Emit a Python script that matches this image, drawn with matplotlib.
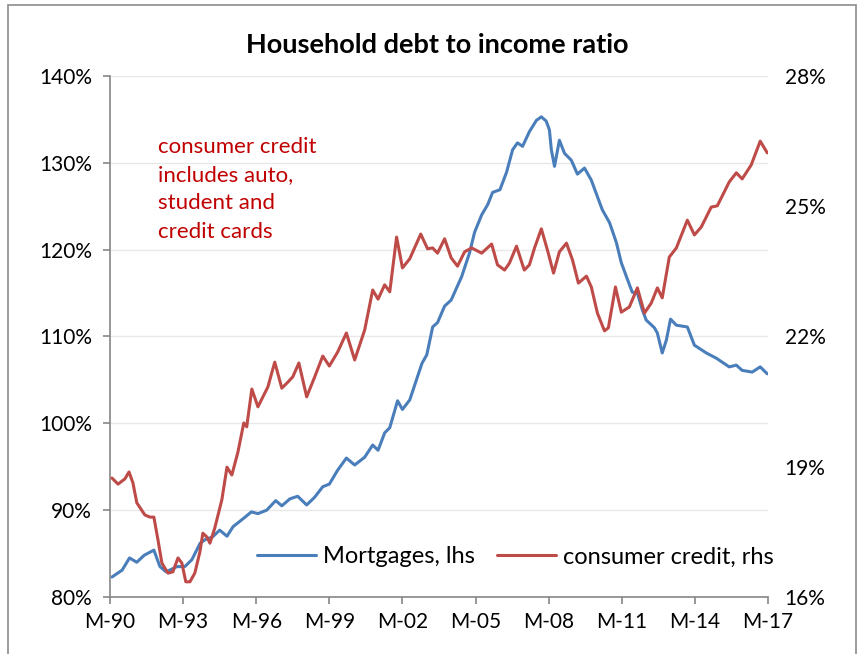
import numpy as np
import matplotlib.pyplot as plt
from matplotlib.patches import Rectangle

plt.rcParams['font.family'] = ['Lato', 'DejaVu Sans']

# mortgage debt / income (%), left axis
mort_t = [1990.08, 1990.5, 1990.8, 1991.1, 1991.4, 1991.8, 1992.05, 1992.3, 1992.75,
          1993.07, 1993.36, 1993.7, 1993.9, 1994.2, 1994.5, 1994.8, 1995.05, 1995.5,
          1995.8, 1996.07, 1996.43, 1996.8, 1997.05, 1997.38, 1997.7, 1998.07, 1998.4,
          1998.73, 1999.0, 1999.34, 1999.7, 2000.04, 2000.45, 2000.78, 2001.0, 2001.27,
          2001.48, 2001.8, 2002.0, 2002.3, 2002.8, 2003.0, 2003.24, 2003.44, 2003.73,
          2004.0, 2004.43, 2004.75, 2004.96, 2005.25, 2005.5, 2005.7, 2006.0, 2006.27,
          2006.52, 2006.72, 2006.93, 2007.21, 2007.5, 2007.7, 2007.9, 2008.03, 2008.11,
          2008.24, 2008.44, 2008.65, 2008.93, 2009.18, 2009.47, 2009.75, 2010.2, 2010.5,
          2010.78, 2010.98, 2011.19, 2011.43, 2011.64, 2011.84, 2012.0, 2012.34, 2012.46,
          2012.66, 2012.83, 2013.0, 2013.24, 2013.69, 2013.98, 2014.47, 2014.88, 2015.41,
          2015.7, 2015.94, 2016.35, 2016.68, 2016.97]
mort = [82.3, 83.1, 84.5, 84.0, 84.8, 85.4, 83.5, 82.9, 83.5,
        83.5, 84.3, 86.2, 86.6, 86.9, 87.7, 87.0, 88.1, 89.1,
        89.8, 89.6, 90.0, 91.1, 90.5, 91.3, 91.6, 90.6, 91.5,
        92.7, 93.0, 94.6, 96.0, 95.2, 96.1, 97.5, 96.9, 98.9,
        99.5, 102.6, 101.6, 102.7, 106.9, 107.9, 111.1, 111.6, 113.5,
        114.2, 116.9, 119.6, 122.0, 124.0, 125.2, 126.6, 126.9, 128.9,
        131.5, 132.3, 131.9, 133.6, 134.9, 135.3, 134.8, 133.8, 131.5,
        129.6, 132.6, 131.1, 130.3, 128.7, 129.4, 128.0, 124.6, 123.1,
        120.8, 118.5, 116.9, 115.1, 115.0, 113.1, 111.9, 111.0, 110.4,
        108.1, 109.6, 112.0, 111.3, 111.1, 109.0, 108.1, 107.5, 106.5,
        106.7, 106.1, 105.9, 106.5, 105.7]

# consumer credit / income (%), right axis
cons_t = [1990.08, 1990.33, 1990.61, 1990.78, 1990.94, 1991.1, 1991.43, 1991.64, 1991.8,
          1991.97, 1992.13, 1992.38, 1992.58, 1992.79, 1992.95, 1993.11, 1993.28, 1993.48,
          1993.69, 1993.81, 1993.98, 1994.1, 1994.3, 1994.59, 1994.8, 1995.0, 1995.25,
          1995.49, 1995.61, 1995.82, 1996.07, 1996.48, 1996.76, 1997.05, 1997.3, 1997.5,
          1997.75, 1998.07, 1998.4, 1998.73, 1999.0, 1999.34, 1999.7, 2000.04, 2000.45,
          2000.78, 2001.0, 2001.27, 2001.48, 2001.76, 2002.0, 2002.3, 2002.75, 2003.03,
          2003.24, 2003.44, 2003.73, 2004.0, 2004.26, 2004.55, 2004.84, 2005.25, 2005.66,
          2005.9, 2006.19, 2006.39, 2006.68, 2007.0, 2007.21, 2007.42, 2007.7, 2007.95,
          2008.2, 2008.44, 2008.73, 2008.98, 2009.22, 2009.55, 2009.75, 2010.0, 2010.29,
          2010.45, 2010.74, 2010.98, 2011.31, 2011.64, 2011.93, 2012.21, 2012.46, 2012.66,
          2012.95, 2013.24, 2013.69, 2013.98, 2014.26, 2014.67, 2014.92, 2015.41, 2015.7,
          2015.94, 2016.31, 2016.68, 2016.97]
cons = [18.74, 18.60, 18.72, 18.88, 18.63, 18.17, 17.89, 17.84, 17.84,
        17.31, 16.78, 16.55, 16.58, 16.90, 16.78, 16.35, 16.35, 16.55,
        17.04, 17.47, 17.38, 17.24, 17.59, 18.24, 18.99, 18.81, 19.34,
        20.01, 19.92, 20.79, 20.38, 20.84, 21.41, 20.81, 20.95, 21.07,
        21.39, 20.61, 21.07, 21.55, 21.32, 21.64, 22.08, 21.46, 22.15,
        23.07, 22.86, 23.19, 23.03, 24.29, 23.58, 23.79, 24.36, 24.02,
        24.04, 23.92, 24.25, 23.81, 23.62, 23.95, 24.04, 23.92, 24.13,
        23.65, 23.53, 23.69, 24.08, 23.53, 23.65, 24.04, 24.48, 23.99,
        23.46, 23.95, 24.15, 23.76, 23.23, 23.39, 23.14, 22.54, 22.13,
        22.20, 23.14, 22.56, 22.68, 23.12, 22.54, 22.77, 23.12, 22.89,
        23.83, 24.04, 24.68, 24.34, 24.52, 24.98, 25.01, 25.56, 25.77,
        25.63, 25.95, 26.50, 26.23]

left_ticks = [80, 90, 100, 110, 120, 130, 140]
right_ticks = [16, 19, 22, 25, 28]
x_ticks = [1990, 1993, 1996, 1999, 2002, 2005, 2008, 2011, 2014, 2017]
x_labels = ['M-90', 'M-93', 'M-96', 'M-99', 'M-02', 'M-05', 'M-08', 'M-11', 'M-14', 'M-17']

blue = '#4A7EBB'
red = '#BE4B48'
axis_grey = '#868686'

fig = plt.figure(figsize=(8.63, 6.54), dpi=100)
ax = fig.add_axes([110 / 863, 1 - 597 / 654, 658 / 863, 521 / 654])
ax2 = ax.twinx()

l1, = ax.plot(mort_t, mort, color=blue, lw=2.2, solid_joinstyle='round',
              solid_capstyle='round', label='Mortgages, lhs')
l2, = ax2.plot(cons_t, cons, color=red, lw=2.2, solid_joinstyle='round',
               solid_capstyle='round', label='consumer credit, rhs')

ax.set_xlim(1990, 2017)
ax.set_ylim(80, 140)
ax2.set_ylim(16, 28)
ax.set_xticks(x_ticks)
ax.set_xticklabels(x_labels)
ax.set_yticks(left_ticks)
ax.set_yticklabels([f'{v}%' for v in left_ticks])
ax2.set_yticks(right_ticks)
ax2.set_yticklabels([f'{v}%' for v in right_ticks])

ax.grid(axis='y', color='#E8E8E8', lw=1.0)
ax.set_axisbelow(True)
for a in (ax, ax2):
    for s in ('top', 'right', 'left', 'bottom'):
        a.spines[s].set_visible(False)
for s in ('left', 'bottom'):
    ax.spines[s].set_visible(True)
    ax.spines[s].set_color(axis_grey)
    ax.spines[s].set_linewidth(1.2)

ax.tick_params(axis='both', labelsize=15, color=axis_grey, length=5, width=1.2)
ax.tick_params(axis='y', pad=8)
ax.tick_params(axis='x', pad=6)
ax2.tick_params(axis='y', labelsize=15, length=0, pad=12)

fig.text(437 / 863, 1 - 45 / 654, 'Household debt to income ratio',
         ha='center', va='center', fontsize=19.5, fontweight='bold')

ax.text(1991.95, 133.0, 'consumer credit\nincludes auto,\nstudent and\ncredit cards',
        color='#C00000', fontsize=16, va='top', ha='left', linespacing=1.52)

ax.legend(handles=[l1, l2], loc='center', bbox_to_anchor=(0.616, 0.077), ncol=2,
          frameon=False, fontsize=17, handlelength=2.5, handletextpad=0.3,
          columnspacing=0.9, borderpad=0.2)

# outer frame of the chart area
fig.patches.append(Rectangle((8 / 863, -0.02), 848 / 863, 1.02 - 5 / 654,
                             transform=fig.transFigure, fill=False,
                             edgecolor='#8C8C8C', lw=1.2))

fig.savefig('out.png', dpi=100)
